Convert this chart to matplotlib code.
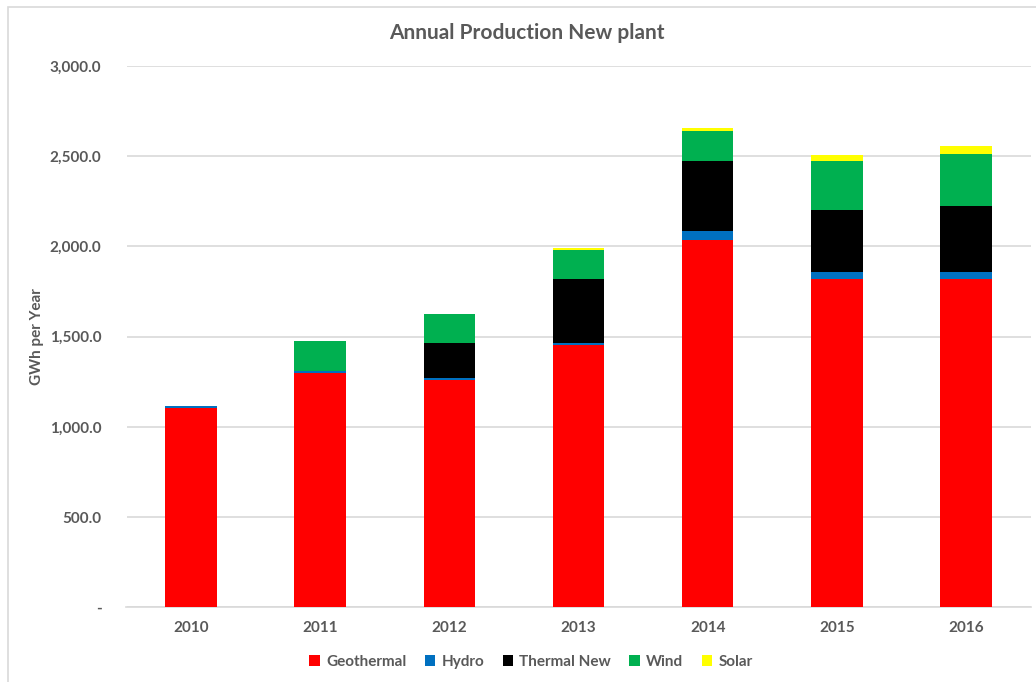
import numpy as np
import matplotlib.pyplot as plt
from matplotlib.patches import Rectangle

# data (GWh per year)
years = ['2010', '2011', '2012', '2013', '2014', '2015', '2016']
geothermal = [1103, 1300, 1258, 1452, 2038, 1818, 1822]
hydro = [15, 12, 12, 15, 46, 40, 38]
thermal_new = [0, 0, 195, 353, 389, 343, 366]
wind = [0, 165, 162, 163, 164, 273, 284]
solar = [0, 0, 0, 8, 17, 33, 48]

series = [('Geothermal', geothermal, '#FF0000'),
          ('Hydro', hydro, '#0070C0'),
          ('Thermal New', thermal_new, '#000000'),
          ('Wind', wind, '#00B050'),
          ('Solar', solar, '#FFFF00')]

plt.rcParams['font.family'] = ['Lato', 'DejaVu Sans']
grey = '#595959'

fig = plt.figure(figsize=(10.36, 6.82), dpi=100)
ax = fig.add_axes([126.5 / 1036, 1 - 607.3 / 682, 904 / 1036, 541.3 / 682])

# chart area border (left and top edges visible)
fig.add_artist(Rectangle((8 / 1036, -0.1), 1.2, 1 - 7 / 682 + 0.1,
                         transform=fig.transFigure, fill=False,
                         edgecolor='#D9D9D9', lw=1.2))

x = np.arange(len(years))
bottom = np.zeros(len(years))
for name, vals, col in series:
    vals = np.array(vals, dtype=float)
    ax.bar(x, vals, width=0.40, bottom=bottom, color=col, label=name,
           linewidth=0, zorder=3)
    bottom += vals

ax.set_xlim(-0.5, len(years) - 0.5)
ax.set_ylim(0, 3000)
ax.set_yticks(np.arange(0, 3001, 500))
ax.set_yticklabels(['-'] + [f'{v:,.1f}' for v in range(500, 3001, 500)])
ax.set_xticks(x)
ax.set_xticklabels(years)
ax.grid(axis='y', color='#D9D9D9', lw=1.2, zorder=0)
ax.tick_params(axis='both', length=0, colors=grey, labelsize=11)
ax.tick_params(axis='y', pad=18)
ax.tick_params(axis='x', pad=10)
for lbl in ax.get_xticklabels() + ax.get_yticklabels():
    lbl.set_fontweight('bold')
for s in ['top', 'right', 'left']:
    ax.spines[s].set_visible(False)
ax.spines['bottom'].set_color('#D9D9D9')
ax.spines['bottom'].set_linewidth(1.2)

ax.set_ylabel('GWh per Year', color=grey, fontsize=11, fontweight='bold')
ax.yaxis.set_label_coords(-82 / 904, 0.5)
fig.text(527 / 1036, 1 - 33 / 682, 'Annual Production New plant', ha='center',
         va='center', fontsize=15, fontweight='bold', color=grey)

leg = ax.legend(loc='center', bbox_to_anchor=(531 / 1036, 1 - 662 / 682),
                bbox_transform=fig.transFigure, ncol=5, frameon=False,
                fontsize=11, handlelength=0.7, handleheight=0.7,
                handletextpad=0.4, columnspacing=1.2)
for t in leg.get_texts():
    t.set_color(grey)
    t.set_fontweight('bold')

fig.savefig('out.png', dpi=100, facecolor='white')
